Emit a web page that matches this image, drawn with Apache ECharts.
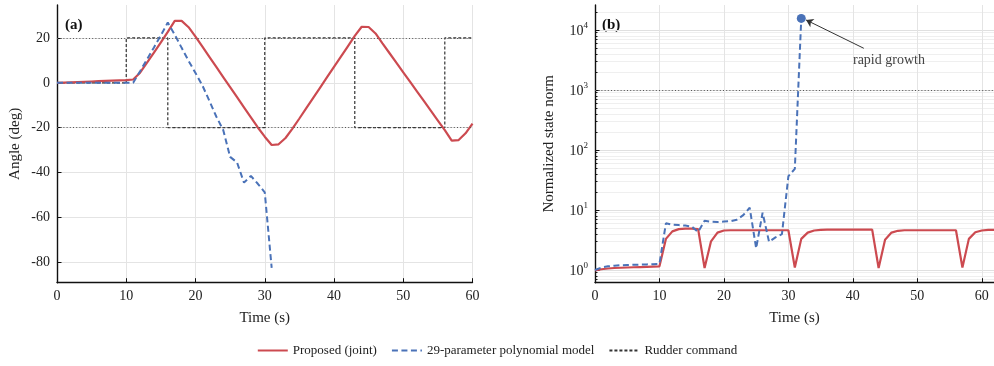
<!DOCTYPE html>
<html>
<head>
<meta charset="utf-8">
<script src="https://cdn.jsdelivr.net/npm/echarts@6/dist/echarts.min.js"></script>
<style>
  html, body {margin: 0; padding: 0; background: #fff;}
  #chart {width: 994px; height: 366px;}
</style>
</head>
<body>
<div id="chart"></div>
<script>
// panel (a): heading angle, deg
const timeA = [0,1,2,3,4,5,6,7,8,9,10,11,12,13,14,15,16,17,18,19,20,21,22,23,24,25,26,27,28,29,30,
  31,32,33,34,35,36,37,38,39,40,41,42,43,44,45,46,47,48,49,50,51,52,53,54,55,56,57,58,59,60];
const angleProposed = [0,0.12,0.24,0.36,0.48,0.6,0.72,0.84,0.96,1.08,1.2,1.5,4.5,9,13.5,18,22.7,27.6,27.6,24.8,
  20.6,16.1,11.6,7.1,2.6,-1.9,-6.4,-10.9,-15.4,-19.9,-24,-27.7,-27.4,-24.6,-20.4,-15.9,-11.3,-6.7,-2.1,2.5,
  7.1,11.7,16.3,20.9,25,24.9,22,17.6,13.3,9,4.7,0.4,-3.9,-8.2,-12.5,-16.8,-21.1,-25.8,-25.5,-22.5,-18.2];
const anglePoly = [0,0,0,0,0,0,0,0,0,0,0,0,5.2,10.5,15.8,21.2,26.9,21.5,15.6,9.8,4.4,-1.2,-8,-15,-21,-33,-35.5,
  -44.5,-41.5,-45,-48.8,-82.5];
const rudderTime = [0, 10, 16, 30, 43, 56, 60];
const rudderCmd = [0, 20, -20, 20, -20, 20, 20];
const yTicksA = [-80, -60, -40, -20, 0, 20];

// panel (b): normalized state norm
const timeB = [0,1,2,3,4,5,6,7,8,9,10,11,12,13,14,15,16,17,18,19,20,21,22,23,24,25,26,27,28,29,30,
  31,32,33,34,35,36,37,38,39,40,41,42,43,44,45,46,47,48,49,50,51,52,53,54,55,56,57,58,59,60,61,62];
const normProposed = [0.98,1.03,1.06,1.08,1.09,1.1,1.11,1.12,1.13,1.14,1.15,3.3,4.4,4.8,4.9,4.9,4.8,1.08,3.0,4.2,
  4.55,4.6,4.6,4.6,4.6,4.6,4.6,4.6,4.6,4.6,4.6,1.1,3.3,4.2,4.55,4.65,4.7,4.7,4.7,4.7,4.7,4.7,4.7,4.7,1.08,3.2,
  4.2,4.5,4.6,4.6,4.6,4.6,4.6,4.6,4.6,4.6,4.6,1.1,3.3,4.25,4.55,4.65,4.65];
const normPoly = [1.0,1.1,1.15,1.18,1.2,1.21,1.22,1.23,1.24,1.25,1.27,6.0,5.7,5.6,5.5,5.3,4.3,6.6,6.4,6.3,6.4,6.5,
  6.9,8.2,10.9,2.3,9.0,2.95,3.5,3.95,36.5,48.4,15600];
const yTicksB = [1, 10, 100, 1000, 10000];
const yMinorB = [0.7,0.8,0.9,2,3,4,5,6,7,8,9,20,30,40,50,60,70,80,90,200,300,400,500,600,700,800,900,
  2000,3000,4000,5000,6000,7000,8000,9000,20000];
const xTicks = [0, 10, 20, 30, 40, 50, 60];

const font = '"Liberation Serif", "DejaVu Serif", serif';
const red = '#cc4a50';
const blue = '#4a72b8';
const pair = (xs, ys) => ys.map((v, i) => [xs[i], v]);

const axisLine = {onZero: false, lineStyle: {color: '#111', width: 1.4}};
const tick = (vals, len) => ({inside: true, length: len, customValues: vals, lineStyle: {color: '#111', width: 1}});
const label = (vals) => ({customValues: vals, color: '#222', fontFamily: font, fontSize: 14, margin: 7});
const split = (c) => ({show: true, lineStyle: {color: c, width: 1}});
const nameStyle = {color: '#222', fontFamily: font, fontSize: 15};

const chart = echarts.init(document.getElementById('chart'));
chart.setOption({
  animation: false,
  backgroundColor: '#fff',
  grid: [
    {left: 57, top: 5, width: 415.5, height: 277.7, outerBoundsMode: 'none'},
    {left: 595, top: 5, width: 399, height: 277.7, outerBoundsMode: 'none'},
  ],
  xAxis: [
    {gridIndex: 0, type: 'value', min: 0, max: 60, axisLine, axisTick: tick(xTicks, 4.5),
      axisLabel: label(xTicks), splitLine: split('#e4e4e4'),
      name: 'Time (s)', nameLocation: 'middle', nameGap: 28, nameTextStyle: nameStyle},
    {gridIndex: 1, type: 'value', min: 0, max: 61.9, axisLine, axisTick: tick(xTicks, 4.5),
      axisLabel: label(xTicks), splitLine: split('#e4e4e4'),
      name: 'Time (s)', nameLocation: 'middle', nameGap: 28, nameTextStyle: nameStyle},
  ],
  yAxis: [
    {gridIndex: 0, type: 'value', min: -89.1, max: 34.7, position: 'left', axisLine,
      axisTick: tick(yTicksA, 4.5), axisLabel: label(yTicksA), splitLine: split('#e4e4e4'),
      name: 'Angle (deg)', nameLocation: 'middle', nameGap: 34, nameTextStyle: nameStyle},
    {gridIndex: 1, type: 'log', logBase: 10, min: 0.614, max: 26100, position: 'left', axisLine,
      axisTick: tick(yTicksB, 4.5),
      axisLabel: Object.assign(label(yTicksB), {
        formatter: v => '{b|10}{s|' + Math.round(Math.log10(v)) + '}',
        rich: {
          b: {fontFamily: font, fontSize: 14, color: '#222', verticalAlign: 'bottom'},
          s: {fontFamily: font, fontSize: 9, color: '#222', verticalAlign: 'bottom', padding: [0, 0, 8, 0]},
        },
      }),
      splitLine: split('#e0e0e0'),
      name: 'Normalized state norm', nameLocation: 'middle', nameGap: 38, nameTextStyle: nameStyle},
    {gridIndex: 1, type: 'log', logBase: 10, min: 0.614, max: 26100, position: 'left',
      axisLine: {show: false}, axisTick: tick(yMinorB, 2.5), axisLabel: {show: false},
      splitLine: split('#efefef')},
  ],
  legend: {
    data: ['Proposed (joint)', '29-parameter polynomial model', 'Rudder command'],
    left: 'center', bottom: 4, itemWidth: 30, itemHeight: 12, itemGap: 14,
    itemStyle: {opacity: 0},
    textStyle: {fontFamily: font, fontSize: 13, color: '#222'},
  },
  graphic: [
    {type: 'text', left: 65, top: 18, style: {text: '(a)', font: 'bold 15px ' + font, fill: '#111'}},
    {type: 'text', left: 602, top: 18, style: {text: '(b)', font: 'bold 15px ' + font, fill: '#111'}},
  ],
  series: [
    {
      name: 'Rudder command', type: 'line', xAxisIndex: 0, yAxisIndex: 0, step: 'end',
      data: pair(rudderTime, rudderCmd), symbol: 'none', z: 2,
      lineStyle: {color: '#333', width: 1.2, type: [3, 2]}, itemStyle: {color: '#333'},
      markLine: {
        silent: true, symbol: 'none', label: {show: false},
        lineStyle: {color: '#555', width: 1.2, type: [1, 2.2]},
        data: [{yAxis: 20}, {yAxis: -20}],
      },
    },
    {
      name: 'Proposed (joint)', type: 'line', xAxisIndex: 0, yAxisIndex: 0,
      data: pair(timeA, angleProposed), symbol: 'none', z: 3,
      lineStyle: {color: red, width: 2.2}, itemStyle: {color: red},
    },
    {
      name: '29-parameter polynomial model', type: 'line', xAxisIndex: 0, yAxisIndex: 0,
      data: pair(timeA, anglePoly), symbol: 'none', z: 4,
      lineStyle: {color: blue, width: 2, type: [6, 3.5]}, itemStyle: {color: blue},
    },
    {
      name: 'Proposed (joint)', type: 'line', xAxisIndex: 1, yAxisIndex: 1,
      data: pair(timeB, normProposed), symbol: 'none', z: 3,
      lineStyle: {color: red, width: 2.2}, itemStyle: {color: red},
      markLine: {
        silent: true, symbol: 'none', label: {show: false},
        lineStyle: {color: '#555', width: 1.2, type: [1, 2.2]},
        data: [{yAxis: 1000}],
      },
    },
    {
      name: '29-parameter polynomial model', type: 'line', xAxisIndex: 1, yAxisIndex: 1,
      data: pair(timeB, normPoly), symbol: 'none', z: 4,
      lineStyle: {color: blue, width: 2, type: [6, 3.5]}, itemStyle: {color: blue},
      markPoint: {
        silent: true,
        data: [
          {type: 'max', symbol: 'circle', symbolSize: 9, itemStyle: {color: blue, opacity: 1}, label: {show: false}},
          {coord: [45.6, 3100], symbol: 'circle', symbolSize: 0,
            label: {show: true, position: 'inside', formatter: 'rapid growth', color: '#444', fontFamily: font, fontSize: 14}},
        ],
      },
      markLine: {
        silent: true, symbol: ['none', 'arrow'], symbolSize: 7, label: {show: false},
        lineStyle: {color: '#333', width: 1, type: 'solid'},
        data: [[{coord: [41.7, 4955]}, {coord: [32.75, 14680]}]],
      },
    },
  ],
});
</script>
</body>
</html>
